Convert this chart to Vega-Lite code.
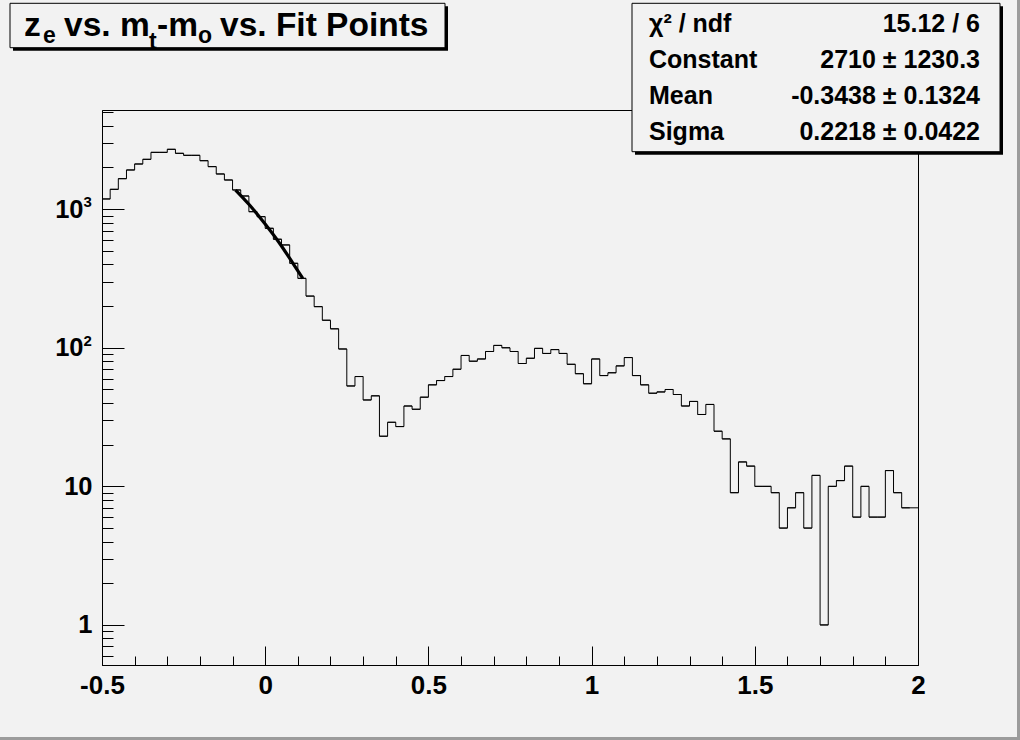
{
 "$schema": "https://vega.github.io/schema/vega-lite/v6.json",
 "width": 816,
 "height": 555,
 "autosize": {"type": "none"},
 "padding": {"left": 102, "top": 110, "right": 102, "bottom": 75},
 "background": "#f2f2f2",
 "config": {
  "view": {"stroke": "#000000", "strokeWidth": 1, "fill": "#f2f2f2"},
  "axis": {"domainColor": "#000000", "domainWidth": 1, "tickColor": "#000000", "tickWidth": 1, "labelColor": "#000000", "labelFont": "Liberation Sans", "labelFontWeight": "bold", "labelFontSize": 26, "grid": false, "title": null, "labelOverlap": false, "labelFlush": false, "labelBound": false}
 },
 "datasets": {
  "hist": [
   {"x": -0.5, "x_hi": -0.475, "n": 1185},
   {"x": -0.475, "x_hi": -0.45, "n": 1391},
   {"x": -0.45, "x_hi": -0.425, "n": 1660},
   {"x": -0.425, "x_hi": -0.4, "n": 1918},
   {"x": -0.4, "x_hi": -0.375, "n": 2119},
   {"x": -0.375, "x_hi": -0.35, "n": 2290},
   {"x": -0.35, "x_hi": -0.325, "n": 2571},
   {"x": -0.325, "x_hi": -0.3, "n": 2571},
   {"x": -0.3, "x_hi": -0.275, "n": 2704},
   {"x": -0.275, "x_hi": -0.25, "n": 2530},
   {"x": -0.25, "x_hi": -0.225, "n": 2447},
   {"x": -0.225, "x_hi": -0.2, "n": 2447},
   {"x": -0.2, "x_hi": -0.175, "n": 2238},
   {"x": -0.175, "x_hi": -0.15, "n": 2028},
   {"x": -0.15, "x_hi": -0.125, "n": 1795},
   {"x": -0.125, "x_hi": -0.1, "n": 1624},
   {"x": -0.1, "x_hi": -0.075, "n": 1376},
   {"x": -0.075, "x_hi": -0.05, "n": 1245},
   {"x": -0.05, "x_hi": -0.025, "n": 959},
   {"x": -0.025, "x_hi": 0, "n": 883},
   {"x": 0, "x_hi": 0.025, "n": 728},
   {"x": 0.025, "x_hi": 0.05, "n": 607},
   {"x": 0.05, "x_hi": 0.075, "n": 552},
   {"x": 0.075, "x_hi": 0.1, "n": 407},
   {"x": 0.1, "x_hi": 0.125, "n": 317},
   {"x": 0.125, "x_hi": 0.15, "n": 236},
   {"x": 0.15, "x_hi": 0.175, "n": 198},
   {"x": 0.175, "x_hi": 0.2, "n": 158},
   {"x": 0.2, "x_hi": 0.225, "n": 137},
   {"x": 0.225, "x_hi": 0.25, "n": 98},
   {"x": 0.25, "x_hi": 0.275, "n": 53},
   {"x": 0.275, "x_hi": 0.3, "n": 62},
   {"x": 0.3, "x_hi": 0.325, "n": 42},
   {"x": 0.325, "x_hi": 0.35, "n": 45},
   {"x": 0.35, "x_hi": 0.375, "n": 23},
   {"x": 0.375, "x_hi": 0.4, "n": 29},
   {"x": 0.4, "x_hi": 0.425, "n": 27},
   {"x": 0.425, "x_hi": 0.45, "n": 38},
   {"x": 0.45, "x_hi": 0.475, "n": 36},
   {"x": 0.475, "x_hi": 0.5, "n": 44},
   {"x": 0.5, "x_hi": 0.525, "n": 54},
   {"x": 0.525, "x_hi": 0.55, "n": 58},
   {"x": 0.55, "x_hi": 0.575, "n": 62},
   {"x": 0.575, "x_hi": 0.6, "n": 70},
   {"x": 0.6, "x_hi": 0.625, "n": 88},
   {"x": 0.625, "x_hi": 0.65, "n": 80},
   {"x": 0.65, "x_hi": 0.675, "n": 83},
   {"x": 0.675, "x_hi": 0.7, "n": 94},
   {"x": 0.7, "x_hi": 0.725, "n": 104},
   {"x": 0.725, "x_hi": 0.75, "n": 100},
   {"x": 0.75, "x_hi": 0.775, "n": 94},
   {"x": 0.775, "x_hi": 0.8, "n": 77},
   {"x": 0.8, "x_hi": 0.825, "n": 84},
   {"x": 0.825, "x_hi": 0.85, "n": 99},
   {"x": 0.85, "x_hi": 0.875, "n": 91},
   {"x": 0.875, "x_hi": 0.9, "n": 97},
   {"x": 0.9, "x_hi": 0.925, "n": 91},
   {"x": 0.925, "x_hi": 0.95, "n": 76},
   {"x": 0.95, "x_hi": 0.975, "n": 65},
   {"x": 0.975, "x_hi": 1, "n": 55},
   {"x": 1, "x_hi": 1.025, "n": 83},
   {"x": 1.025, "x_hi": 1.05, "n": 63},
   {"x": 1.05, "x_hi": 1.075, "n": 66},
   {"x": 1.075, "x_hi": 1.1, "n": 74},
   {"x": 1.1, "x_hi": 1.125, "n": 85},
   {"x": 1.125, "x_hi": 1.15, "n": 63},
   {"x": 1.15, "x_hi": 1.175, "n": 54},
   {"x": 1.175, "x_hi": 1.2, "n": 47},
   {"x": 1.2, "x_hi": 1.225, "n": 48},
   {"x": 1.225, "x_hi": 1.25, "n": 50},
   {"x": 1.25, "x_hi": 1.275, "n": 46},
   {"x": 1.275, "x_hi": 1.3, "n": 38},
   {"x": 1.3, "x_hi": 1.325, "n": 41},
   {"x": 1.325, "x_hi": 1.35, "n": 33},
   {"x": 1.35, "x_hi": 1.375, "n": 39},
   {"x": 1.375, "x_hi": 1.4, "n": 25},
   {"x": 1.4, "x_hi": 1.425, "n": 22},
   {"x": 1.425, "x_hi": 1.45, "n": 9},
   {"x": 1.45, "x_hi": 1.475, "n": 15},
   {"x": 1.475, "x_hi": 1.5, "n": 14},
   {"x": 1.5, "x_hi": 1.525, "n": 10},
   {"x": 1.525, "x_hi": 1.55, "n": 10},
   {"x": 1.55, "x_hi": 1.575, "n": 9},
   {"x": 1.575, "x_hi": 1.6, "n": 5},
   {"x": 1.6, "x_hi": 1.625, "n": 7},
   {"x": 1.625, "x_hi": 1.65, "n": 9},
   {"x": 1.65, "x_hi": 1.675, "n": 5},
   {"x": 1.675, "x_hi": 1.7, "n": 12},
   {"x": 1.7, "x_hi": 1.725, "n": 1},
   {"x": 1.725, "x_hi": 1.75, "n": 10},
   {"x": 1.75, "x_hi": 1.775, "n": 11},
   {"x": 1.775, "x_hi": 1.8, "n": 14},
   {"x": 1.8, "x_hi": 1.825, "n": 6},
   {"x": 1.825, "x_hi": 1.85, "n": 10},
   {"x": 1.85, "x_hi": 1.875, "n": 6},
   {"x": 1.875, "x_hi": 1.9, "n": 6},
   {"x": 1.9, "x_hi": 1.925, "n": 13},
   {"x": 1.925, "x_hi": 1.95, "n": 9},
   {"x": 1.95, "x_hi": 1.975, "n": 7},
   {"x": 1.975, "x_hi": 2, "n": 7}
  ],
  "fit": [
   {"x": -0.091, "n": 1375},
   {"x": -0.048, "n": 1072},
   {"x": -0.002, "n": 791},
   {"x": 0.044, "n": 568},
   {"x": 0.085, "n": 407},
   {"x": 0.115, "n": 317}
  ],
  "exponents": [
   {"n": 1000, "s": "3"},
   {"n": 100, "s": "2"}
  ]
 },
 "layer": [
  {
   "encoding": {
    "x": {"field": "x", "type": "quantitative",
     "scale": {"domain": [-0.5, 2], "nice": false, "zero": false},
     "axis": {
      "values": [-0.5, -0.4, -0.3, -0.2, -0.1, 0, 0.1, 0.2, 0.3, 0.4, 0.5, 0.6, 0.7, 0.8, 0.9, 1, 1.1, 1.2, 1.3, 1.4, 1.5, 1.6, 1.7, 1.8, 1.9, 2],
      "labelExpr": "abs(datum.value*2-round(datum.value*2))<0.001 ? (datum.value<0 ? '-' + format(-datum.value, '') : format(datum.value, '')) : ''",
      "tickSize": {"condition": {"test": "abs(datum.value*2-round(datum.value*2))<0.001", "value": -19}, "value": -9},
      "labelPadding": 26
     }
    },
    "y": {"field": "n", "type": "quantitative",
     "scale": {"type": "log", "domain": [0.514, 5196], "nice": false},
     "axis": {
      "values": [0.6, 0.7, 0.8, 0.9, 1, 2, 3, 4, 5, 6, 7, 8, 9, 10, 20, 30, 40, 50, 60, 70, 80, 90, 100, 200, 300, 400, 500, 600, 700, 800, 900, 1000, 2000, 3000, 4000, 5000],
      "labelExpr": "(datum.value==1000 || datum.value==100 || datum.value==10) ? '10' : datum.value==1 ? '1' : ''",
      "tickSize": {"condition": {"test": "abs(log(datum.value)/LN10 - round(log(datum.value)/LN10)) < 0.001", "value": -22}, "value": -11},
      "labelPadding": {"condition": {"test": "datum.value==1000 || datum.value==100", "value": 41}, "value": 32},
      "labelFontSize": 25.5
     }
    }
   },
   "layer": [
    {"data": {"name": "hist"}, "mark": {"type": "rule", "color": "#000000", "strokeWidth": 1}, "encoding": {"x2": {"field": "x_hi"}}},
    {"data": {"name": "hist"}, "mark": {"type": "line", "interpolate": "step-after", "color": "#000000", "strokeWidth": 1}},
    {"data": {"name": "fit"}, "mark": {"type": "line", "interpolate": "monotone", "color": "#000000", "strokeWidth": 3.2}},
    {"data": {"name": "exponents"}, "mark": {"type": "text", "font": "Liberation Sans", "fontWeight": "bold", "fontSize": 15, "align": "left", "baseline": "middle", "dy": -7, "color": "#000000"},
     "encoding": {"x": {"value": -18.5}, "text": {"field": "s"}}}
   ]
  },
  {"data": {"values": [{}]}, "mark": {"type": "rect", "color": "#9c9c9c"},
   "encoding": {"x": {"value": -102}, "x2": {"value": 918}, "y": {"value": 627}, "y2": {"value": 630}}},
  {"data": {"values": [{}]}, "mark": {"type": "rect", "color": "#9c9c9c"},
   "encoding": {"x": {"value": 915}, "x2": {"value": 918}, "y": {"value": -110}, "y2": {"value": 630}}},
  {"data": {"values": [{}]}, "mark": {"type": "rect", "color": "#000000"},
   "encoding": {"x": {"value": -89}, "x2": {"value": 346}, "y": {"value": -103.7}, "y2": {"value": -59.3}}},
  {"data": {"values": [{}]}, "mark": {"type": "rect", "fill": "#f2f2f2", "stroke": "#000000", "strokeWidth": 1},
   "encoding": {"x": {"value": -92}, "x2": {"value": 343}, "y": {"value": -106.7}, "y2": {"value": -62.3}}},
  {"data": {"values": [{}]}, "mark": {"type": "text", "text": "z", "font": "Liberation Sans", "fontWeight": "bold", "fontSize": 33.5, "align": "left", "baseline": "alphabetic", "color": "#000000"},
   "encoding": {"x": {"value": -78}, "y": {"value": -74.3}}},
  {"data": {"values": [{}]}, "mark": {"type": "text", "text": "e", "font": "Liberation Sans", "fontWeight": "bold", "fontSize": 23, "align": "left", "baseline": "alphabetic", "color": "#000000"},
   "encoding": {"x": {"value": -59}, "y": {"value": -66.7}}},
  {"data": {"values": [{}]}, "mark": {"type": "text", "text": "vs. m", "font": "Liberation Sans", "fontWeight": "bold", "fontSize": 33.5, "align": "left", "baseline": "alphabetic", "color": "#000000"},
   "encoding": {"x": {"value": -38}, "y": {"value": -74.3}}},
  {"data": {"values": [{}]}, "mark": {"type": "text", "text": "t", "font": "Liberation Sans", "fontWeight": "bold", "fontSize": 23, "align": "left", "baseline": "alphabetic", "color": "#000000"},
   "encoding": {"x": {"value": 47}, "y": {"value": -61}}},
  {"data": {"values": [{}]}, "mark": {"type": "text", "text": "-m", "font": "Liberation Sans", "fontWeight": "bold", "fontSize": 33.5, "align": "left", "baseline": "alphabetic", "color": "#000000"},
   "encoding": {"x": {"value": 55}, "y": {"value": -74.3}}},
  {"data": {"values": [{}]}, "mark": {"type": "text", "text": "o", "font": "Liberation Sans", "fontWeight": "bold", "fontSize": 23, "align": "left", "baseline": "alphabetic", "color": "#000000"},
   "encoding": {"x": {"value": 96}, "y": {"value": -66.7}}},
  {"data": {"values": [{}]}, "mark": {"type": "text", "text": "vs. Fit Points", "font": "Liberation Sans", "fontWeight": "bold", "fontSize": 33.5, "align": "left", "baseline": "alphabetic", "color": "#000000"},
   "encoding": {"x": {"value": 118}, "y": {"value": -74.3}}},
  {"data": {"values": [{}]}, "mark": {"type": "rect", "color": "#000000"},
   "encoding": {"x": {"value": 533}, "x2": {"value": 901}, "y": {"value": -103.7}, "y2": {"value": 44.7}}},
  {"data": {"values": [{}]}, "mark": {"type": "rect", "fill": "#f2f2f2", "stroke": "#000000", "strokeWidth": 1},
   "encoding": {"x": {"value": 530}, "x2": {"value": 898}, "y": {"value": -106.7}, "y2": {"value": 41.7}}},
  {"data": {"values": [{}]}, "mark": {"type": "text", "text": "χ² / ndf", "font": "Liberation Sans", "fontWeight": "bold", "fontSize": 25, "align": "left", "baseline": "alphabetic", "color": "#000000"},
   "encoding": {"x": {"value": 547}, "y": {"value": -78}}},
  {"data": {"values": [{}]}, "mark": {"type": "text", "text": "Constant", "font": "Liberation Sans", "fontWeight": "bold", "fontSize": 25, "align": "left", "baseline": "alphabetic", "color": "#000000"},
   "encoding": {"x": {"value": 547}, "y": {"value": -41.7}}},
  {"data": {"values": [{}]}, "mark": {"type": "text", "text": "Mean", "font": "Liberation Sans", "fontWeight": "bold", "fontSize": 25, "align": "left", "baseline": "alphabetic", "color": "#000000"},
   "encoding": {"x": {"value": 547}, "y": {"value": -5.7}}},
  {"data": {"values": [{}]}, "mark": {"type": "text", "text": "Sigma", "font": "Liberation Sans", "fontWeight": "bold", "fontSize": 25, "align": "left", "baseline": "alphabetic", "color": "#000000"},
   "encoding": {"x": {"value": 547}, "y": {"value": 29.5}}},
  {"data": {"values": [{}]}, "mark": {"type": "text", "text": "15.12 / 6", "font": "Liberation Sans", "fontWeight": "bold", "fontSize": 25, "align": "right", "baseline": "alphabetic", "color": "#000000"},
   "encoding": {"x": {"value": 878}, "y": {"value": -78}}},
  {"data": {"values": [{}]}, "mark": {"type": "text", "text": "2710 ± 1230.3", "font": "Liberation Sans", "fontWeight": "bold", "fontSize": 25, "align": "right", "baseline": "alphabetic", "color": "#000000"},
   "encoding": {"x": {"value": 878}, "y": {"value": -41.7}}},
  {"data": {"values": [{}]}, "mark": {"type": "text", "text": "-0.3438 ± 0.1324", "font": "Liberation Sans", "fontWeight": "bold", "fontSize": 25, "align": "right", "baseline": "alphabetic", "color": "#000000"},
   "encoding": {"x": {"value": 878}, "y": {"value": -5.7}}},
  {"data": {"values": [{}]}, "mark": {"type": "text", "text": "0.2218 ± 0.0422", "font": "Liberation Sans", "fontWeight": "bold", "fontSize": 25, "align": "right", "baseline": "alphabetic", "color": "#000000"},
   "encoding": {"x": {"value": 878}, "y": {"value": 29.5}}}
 ]
}
